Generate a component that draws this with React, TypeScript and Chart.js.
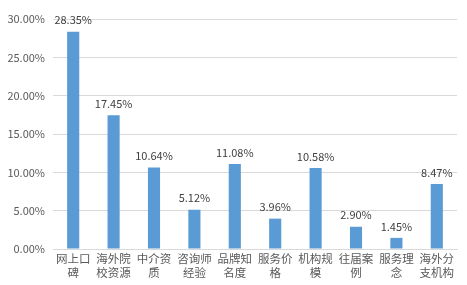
import React, { useEffect, useRef } from "react";
import { Chart, registerables } from "chart.js";

Chart.register(...registerables);

const categories: string[][] = [
  ["网上口", "碑"],
  ["海外院", "校资源"],
  ["中介资", "质"],
  ["咨询师", "经验"],
  ["品牌知", "名度"],
  ["服务价", "格"],
  ["机构规", "模"],
  ["往届案", "例"],
  ["服务理", "念"],
  ["海外分", "支机构"],
];
const values: number[] = [28.35, 17.45, 10.64, 5.12, 11.08, 3.96, 10.58, 2.9, 1.45, 8.47];
const yTicks: number[] = [0, 5, 10, 15, 20, 25, 30];

const FONT = "'Noto Sans CJK SC', 'Noto Sans', sans-serif";

const dataLabelPlugin = {
  id: "dataLabels",
  afterDatasetsDraw(chart: any) {
    const ctx = chart.ctx;
    const meta = chart.getDatasetMeta(0);
    ctx.save();
    ctx.font = `11px ${FONT}`;
    ctx.fillStyle = "#404040";
    ctx.textAlign = "center";
    ctx.textBaseline = "bottom";
    meta.data.forEach((bar: any, i: number) => {
      ctx.fillText(values[i].toFixed(2) + "%", bar.x, bar.y - 6);
    });
    ctx.restore();
  },
};

export default function App() {
  const ref = useRef<HTMLCanvasElement>(null);
  useEffect(() => {
    if (!ref.current) return;
    const chart = new Chart(ref.current, {
      type: "bar",
      data: {
        labels: categories,
        datasets: [
          {
            data: values,
            backgroundColor: "#5B9BD5",
            barPercentage: 0.6,
            categoryPercentage: 0.5,
          },
        ],
      },
      options: {
        animation: false,
        responsive: false,
        maintainAspectRatio: false,
        layout: { padding: { top: 19, right: 10, bottom: 0, left: 0 } },
        plugins: { legend: { display: false }, tooltip: { enabled: false } },
        scales: {
          x: {
            grid: { display: false, drawTicks: false },
            border: { display: true, color: "#D9D9D9" },
            ticks: {
              color: "#595959",
              font: { family: FONT, size: 11.5, lineHeight: 14 / 11.5 },
              padding: 3,
              maxRotation: 0,
              autoSkip: false,
            },
            afterFit: (s: any) => {
              s.height = 36;
            },
          },
          y: {
            min: 0,
            max: 30,
            afterBuildTicks: (s: any) => {
              s.ticks = yTicks.map((v) => ({ value: v }));
            },
            grid: { color: "#D9D9D9", drawTicks: false },
            border: { display: false },
            ticks: {
              color: "#595959",
              font: { family: FONT, size: 11 },
              padding: 8,
              callback: (v: any) => Number(v).toFixed(2) + "%",
            },
            afterFit: (s: any) => {
              s.width = 53;
            },
          },
        },
      },
      plugins: [dataLabelPlugin],
    });
    return () => chart.destroy();
  }, []);
  return (
    <div style={{ position: "absolute", left: 0, top: 0, width: 467, height: 285, background: "#fff" }}>
      <canvas ref={ref} width={467} height={285} style={{ display: "block" }} />
    </div>
  );
}
